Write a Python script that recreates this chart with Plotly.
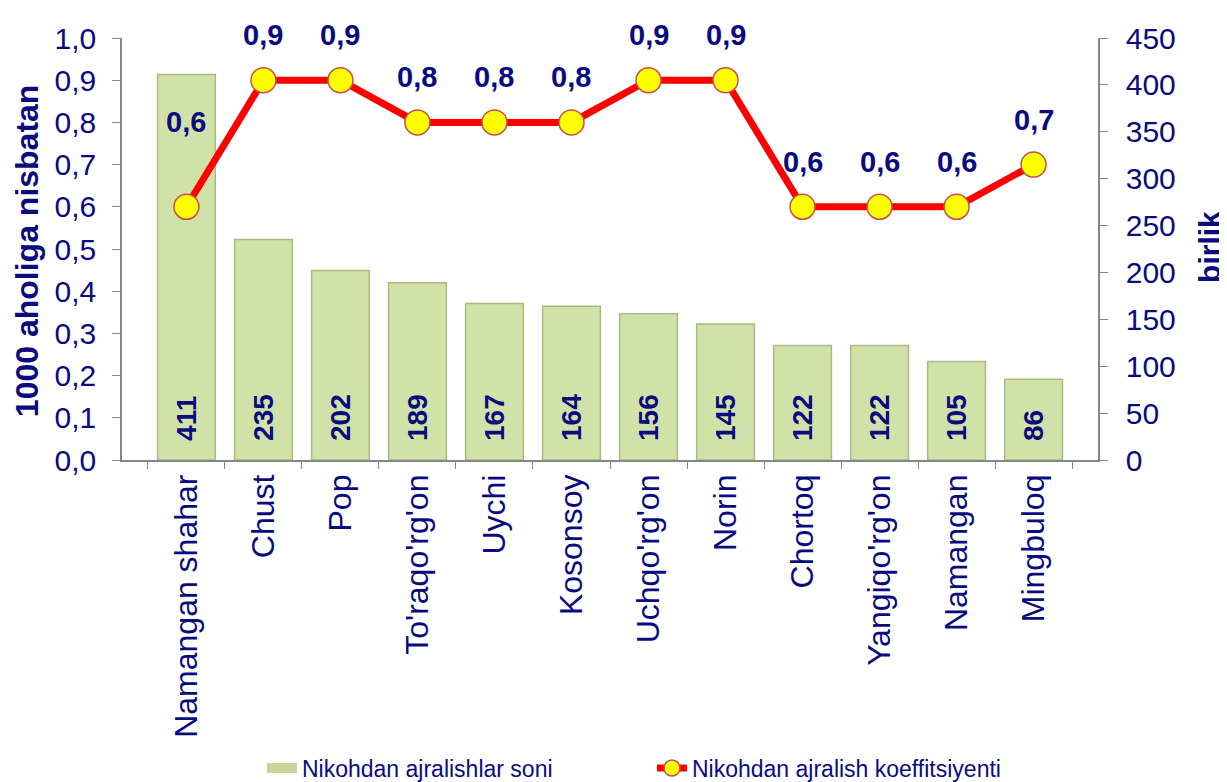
import plotly.graph_objects as go

districts = ["Namangan shahar", "Chust", "Pop", "To'raqo'rg'on", "Uychi", "Kosonsoy",
             "Uchqo'rg'on", "Norin", "Chortoq", "Yangiqo'rg'on", "Namangan", "Mingbuloq"]
divorces = [411, 235, 202, 189, 167, 164, 156, 145, 122, 122, 105, 86]
coef = [0.6, 0.9, 0.9, 0.8, 0.8, 0.8, 0.9, 0.9, 0.6, 0.6, 0.6, 0.7]

NAVY = "#0B0B80"
FONT = "Liberation Sans, Arial, sans-serif"
AXIS = "#868686"
BAR_GREEN = "#D1E2A9"

fig = go.Figure()

# bars -> right axis (birlik), drawn first so the line sits on top
fig.add_trace(go.Bar(
    x=districts, y=divorces, yaxis="y", name="Nikohdan ajralishlar soni",
    marker=dict(color=BAR_GREEN, line=dict(color="#A9BA84", width=1.5)),
    width=0.75, showlegend=False,
))
# legend stand-in for the bars (wide green bar symbol like the original)
fig.add_trace(go.Scatter(
    x=[None], y=[None], yaxis="y", mode="lines", name="Nikohdan ajralishlar soni",
    line=dict(color="#C4D79B", width=12),
))

# coefficient line -> left axis
fig.add_trace(go.Scatter(
    x=districts, y=coef, yaxis="y2", mode="lines+markers",
    name="Nikohdan ajralish koeffitsiyenti",
    line=dict(color="#FF0000", width=7),
    marker=dict(size=25, color="#FFFF00", line=dict(color="#C0504D", width=1.5)),
))

# bar values, vertical, near the bottom of each bar
for d, n in zip(districts, divorces):
    fig.add_annotation(x=d, y=0, xref="x", yref="y", yanchor="bottom", yshift=17,
                       text=str(n), textangle=-90, showarrow=False,
                       font=dict(family=FONT, size=28, color=NAVY, weight="bold"))

# coefficient values above the points
for i, (d, v) in enumerate(zip(districts, coef)):
    shift = 85 if i == 0 else 45
    fig.add_annotation(x=d, y=v, xref="x", yref="y2", yshift=shift,
                       text=f"{v:.1f}".replace(".", ","), showarrow=False,
                       font=dict(family=FONT, size=29, color=NAVY, weight="bold"))

# axis titles
fig.add_annotation(x=-0.0973, y=0.495, xref="paper", yref="paper", textangle=-90,
                   xanchor="center", yanchor="middle",
                   text="1000 aholiga nisbatan", showarrow=False,
                   font=dict(family=FONT, size=32, color=NAVY, weight="bold"))
fig.add_annotation(x=1.1148, y=0.505, xref="paper", yref="paper", textangle=-90,
                   xanchor="center", yanchor="middle",
                   text="birlik", showarrow=False,
                   font=dict(family=FONT, size=30, color=NAVY, weight="bold"))

# page has an 8px body margin, so the figure is sized/offset to compensate
fig.update_layout(
    width=1219, height=774,
    margin=dict(l=114, r=129, t=30, b=322, autoexpand=False),
    paper_bgcolor="white", plot_bgcolor="white",
    separators=", ",
    font=dict(family=FONT, color=NAVY),
    showlegend=True,
    legend=dict(orientation="h", x=0.543, xanchor="center", y=-0.73, yanchor="middle",
                font=dict(family=FONT, size=23, color=NAVY),
                entrywidth=345, traceorder="normal"),
    xaxis=dict(showline=True, linecolor=AXIS, linewidth=1.5, automargin=False,
               ticks="outside", tickson="boundaries", ticklen=7, tickcolor=AXIS,
               tickangle=-90, tickfont=dict(size=32, color=NAVY), showgrid=False),
    yaxis=dict(range=[0, 450], dtick=50, side="right", showgrid=False, automargin=False,
               zeroline=False, showline=True, linecolor=AXIS, linewidth=1.5,
               ticks="outside", ticklen=8, tickcolor=AXIS, ticklabelstandoff=12,
               tickfont=dict(size=30, color=NAVY)),
    yaxis2=dict(range=[0, 1.0], dtick=0.1, tickformat=".1f", overlaying="y", side="left",
                showgrid=False, zeroline=False, automargin=False,
                showline=True, linecolor=AXIS, linewidth=1.5,
                ticks="outside", ticklen=8, tickcolor=AXIS, ticklabelstandoff=10,
                tickfont=dict(size=30, color=NAVY)),
)

fig.write_html("out.html")
